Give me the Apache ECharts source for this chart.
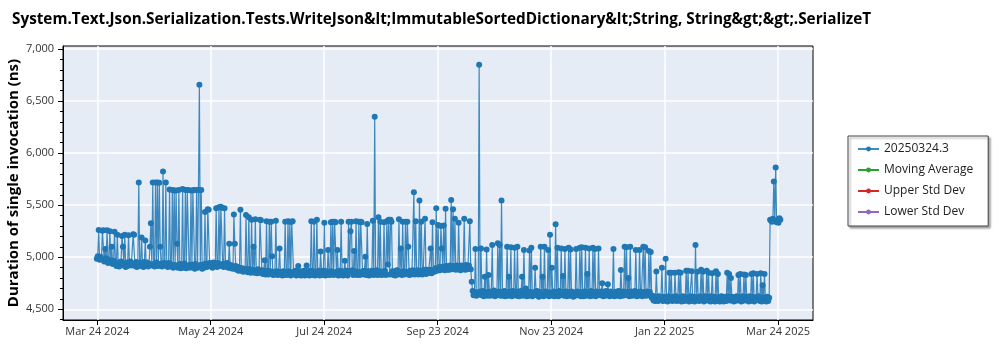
<!DOCTYPE html>
<html>
<head>
<meta charset="utf-8">
<script src="https://cdn.jsdelivr.net/npm/echarts@6/dist/echarts.min.js"></script>
<style>
  html, body { margin: 0; padding: 0; background: #fff; }
  #chart { width: 1000px; height: 350px; }
</style>
</head>
<body>
<div id="chart"></div>
<script>
// Benchmark run history: durations (ns), two runs per day.
const chartTitle = 'System.Text.Json.Serialization.Tests.WriteJson&lt;ImmutableSortedDictionary&lt;String, String&gt;&gt;.SerializeT';
const yAxisTitle = 'Duration of single invocation (ns)';
const seriesNames = ['20250324.3', 'Moving Average', 'Upper Std Dev', 'Lower Std Dev'];
const seriesColors = ['#1f77b4', '#2ca02c', '#d62728', '#9467bd'];

// First run; the following runs come every 12 hours.
const firstRun = '2024-03-24T12:00:00Z';
const runStepHours = 12;

const durations = [
  // Mar 24 - Apr 2 2024
  4985, 5010, 5262, 4975, 5005, 4980, 5255, 5258, 4960, 5080, 4990, 5260, 4945, 4975, 5250, 4950, 5100, 4935, 4965, 5245,
  4955, 4915, 5215, 4945, 4910, 4940, 4960, 5205, 5100, 4920, 5215, 4905, 4950, 4915, 5210, 4945, 4960, 4920, 4930, 5220,
  5215, 4915, 4955, 4905, 4940, 5717, 4950, 4915, 5190, 4935, 4905, 4955, 5160, 4915, 4950, 4910, 4940, 5100, 5327, 4920,
  5717, 4935, 4910, 5717, 4950, 5717, 4915, 5715, 5100, 4940, 4910, 5823, 4945, 4920, 5717, 4935, 4905, 4945, 5650, 4910,
  // May 2024
  4930, 5645, 4900, 5640, 4925, 5640, 5130, 4900, 5645, 4935, 4895, 4920, 5655, 4900, 4940, 5645, 4895, 5645, 5645, 4925,
  4900, 5640, 4930, 5640, 5645, 4890, 4935, 5645, 4900, 5645, 6657, 4925, 5645, 4890, 4930, 4900, 5435, 4940, 4905, 5460,
  5455, 4945, 4915, 4935, 4900, 4950, 4915, 4940, 5470, 4905, 4945, 5480, 4915, 5485, 5475, 4935, 4905, 5470, 4940, 4910,
  4945, 4900, 5130, 4925, 4895, 4920, 4890, 5410, 5130, 4915, 4880, 4905, 4870, 4900, 5455, 4870, 4895, 4860, 4885, 4865,
  // Jun 2024
  5405, 4890, 4855, 5385, 4885, 4850, 5360, 4880, 5100, 4850, 5365, 4875, 4845, 4885, 4850, 5360, 5355, 4875, 4840, 4870,
  4970, 4835, 5345, 4870, 4835, 5340, 4865, 5340, 5010, 4830, 4860, 4835, 5350, 4865, 4830, 4860, 5085, 4835, 4855, 4825,
  4865, 4830, 5340, 4860, 4830, 5345, 4865, 5340, 4825, 5340, 5345, 4860, 4835, 4870, 4825, 4860, 4915, 4830, 4865, 4825,
  // Jul 2024
  4855, 4830, 4870, 4825, 4860, 4920, 4830, 4865, 4825, 4870, 5345, 4830, 4865, 5340, 4825, 4860, 5360, 4835, 4870, 4825,
  5055, 4860, 4830, 4870, 5330, 4825, 4865, 4830, 5070, 4860, 4830, 5335, 4865, 5340, 4830, 5340, 5335, 4860, 5070, 4825,
  4870, 4830, 5340, 4865, 4825, 4860, 4965, 4830, 4870, 4825, 5340, 4865, 5250, 5340, 4875, 4830, 5060, 4865, 5345, 4830,
  // Aug 2024
  4860, 5340, 4830, 5340, 5335, 4865, 4835, 4870, 5005, 4830, 5320, 4865, 4825, 4860, 4835, 4870, 5350, 4830, 6350, 4865,
  4875, 4830, 5385, 4865, 5340, 4830, 4860, 4835, 5335, 4870, 4830, 5345, 4930, 5360, 4835, 5360, 5340, 4865, 4830, 4860,
  4825, 4870, 4875, 4835, 5365, 4860, 5085, 4830, 5340, 4865, 4835, 5340, 4860, 5340, 5100, 4830, 4870, 4835, 4860, 4875,
  // Sep 2024
  5625, 4835, 5345, 4870, 4875, 4835, 5545, 4870, 5340, 4835, 4865, 4880, 5370, 4840, 4880, 4845, 4870, 4880, 5085, 4845,
  5335, 4875, 4860, 4895, 5470, 4870, 5310, 4905, 4875, 5300, 5085, 4910, 5305, 4875, 5465, 4915, 4880, 4910, 4880, 4920,
  5550, 4885, 5460, 4915, 5370, 4880, 4920, 4885, 5330, 4915, 4875, 4920, 4885, 4910, 5370, 4880, 4925, 4885, 4910, 4920,
  // Oct 2024
  5345, 4885, 4765, 4675, 4635, 4665, 5080, 4630, 4660, 4640, 6850, 4670, 5085, 4635, 4675, 4625, 4813, 4665, 5075, 4630,
  4830, 4670, 4630, 4665, 5118, 4635, 4680, 4625, 4660, 4635, 5135, 4670, 5118, 4630, 5545, 4665, 4630, 4675, 4625, 4665,
  5100, 4630, 4813, 4670, 5095, 4625, 4675, 4635, 5090, 4665, 4630, 5100, 4670, 4625, 4645, 4675, 4813, 4630, 5070, 4670,
  // Nov 2024
  4700, 4625, 4670, 4630, 5065, 4665, 5090, 4625, 4660, 4635, 4900, 4670, 4675, 4630, 4620, 4665, 5100, 4635, 4813, 4625,
  5100, 4670, 4635, 4665, 5070, 4625, 5215, 4660, 4900, 4630, 4670, 4625, 5317, 4665, 5090, 4625, 4675, 4635, 5085, 4665,
  4820, 4630, 5080, 4670, 4625, 4665, 5090, 4630, 5075, 4670, 4635, 4620, 4660, 4630, 5080, 4670, 4635, 4665, 5090, 4625,
  // Dec 2024
  5095, 4665, 4625, 4670, 5090, 4630, 4840, 4665, 5085, 4625, 4675, 4630, 5090, 4665, 5080, 4625, 4670, 4635, 5085, 4660,
  4635, 4670, 4750, 4625, 4665, 4630, 4675, 4635, 4740, 4665, 4625, 4670, 4635, 4660, 5080, 4625, 4665, 4630, 4670, 4635,
  4675, 4625, 4878, 4665, 4630, 4670, 5100, 4635, 5095, 4665, 4800, 4625, 5100, 4670, 4630, 4665, 4635, 4675, 5070, 4625,
  // Jan 2025
  4665, 4630, 5070, 4670, 4635, 4625, 5100, 4665, 5095, 4630, 4670, 4635, 5060, 4665, 5050, 4610, 4630, 4585, 4615, 4580,
  4862, 4620, 4580, 4625, 4590, 4615, 4900, 4580, 4620, 4585, 4985, 4615, 4575, 4625, 4850, 4590, 4850, 4580, 4620, 4585,
  4850, 4625, 4580, 4615, 4855, 4585, 4850, 4575, 4625, 4590, 4580, 4620, 4870, 4585, 4870, 4575, 4615, 4625, 4865, 4580,
  // Feb 2025
  4620, 4575, 5118, 4615, 4860, 4585, 4580, 4625, 4880, 4590, 4860, 4575, 4625, 4585, 4870, 4620, 4850, 4580, 4575, 4625,
  4845, 4585, 4620, 4575, 4865, 4615, 4840, 4580, 4575, 4620, 4625, 4590, 4575, 4615, 4620, 4580, 4850, 4625, 4840, 4585,
  4800, 4620, 4590, 4575, 4580, 4615, 4625, 4585, 4830, 4620, 4840, 4575, 4580, 4625, 4835, 4585, 4830, 4620, 4615, 4575,
  // Mar 2025
  4625, 4580, 4840, 4620, 4845, 4575, 4585, 4615, 4840, 4625, 4620, 4580, 4845, 4575, 4730, 4615, 4840, 4585, 4575, 4620,
  4580, 4610, 5360, 5350, 5340, 5370, 5727, 5350, 5862, 5335, 5345, 5330, 5375, 5360
];

const xTickDates = [
  '2024-03-24T18:00:00Z', '2024-05-24T14:00:00Z', '2024-07-24T10:00:00Z',
  '2024-09-23T06:00:00Z', '2024-11-23T02:00:00Z', '2025-01-22T22:00:00Z',
  '2025-03-24T18:00:00Z'
];
const xTickLabels = ['Mar 24 2024', 'May 24 2024', 'Jul 24 2024', 'Sep 23 2024', 'Nov 23 2024', 'Jan 22 2025', 'Mar 24 2025'];
const yTickValues = [4500, 5000, 5500, 6000, 6500, 7000];
const yMinorTickValues = [
  4400, 4500, 4600, 4700, 4800, 4900, 5000, 5100, 5200, 5300, 5400,
  5500, 5600, 5700, 5800, 5900, 6000, 6100, 6200, 6300, 6400, 6500,
  6600, 6700, 6800, 6900, 7000
];

const HOUR_MS = 3600000;
const fontFamily = '"Open Sans", "Noto Sans", sans-serif';
const xTickValues = xTickDates.map(s => Date.parse(s));
const runStart = Date.parse(firstRun);
const runPoints = durations.map((v, i) => [runStart + i * runStepHours * HOUR_MS, v]);

function xLabel(v) {
  let best = 0;
  for (let i = 1; i < xTickValues.length; i++) {
    if (Math.abs(xTickValues[i] - v) < Math.abs(xTickValues[best] - v)) best = i;
  }
  return xTickLabels[best];
}

const chart = echarts.init(document.getElementById('chart'), null, { renderer: 'canvas' });

const series = seriesNames.map((name, i) => ({
  name: name,
  type: 'line',
  data: i === 0 ? runPoints : [],
  symbol: 'circle',
  symbolSize: 6,
  showSymbol: true,
  showAllSymbol: true,
  animation: false,
  color: seriesColors[i],
  itemStyle: { color: seriesColors[i] },
  lineStyle: { color: seriesColors[i], width: 1.2, opacity: i === 0 ? 0.85 : 1 },
  emphasis: { disabled: true }
}));

chart.setOption({
  animation: false,
  backgroundColor: '#ffffff',
  title: {
    text: chartTitle,
    left: 7,
    top: 7,
    textStyle: { fontSize: 15.3, fontWeight: 'bold', color: '#000', fontFamily: fontFamily }
  },
  legend: {
    orient: 'vertical',
    left: 848,
    top: 136,
    data: seriesNames,
    selectedMode: false,
    itemWidth: 21,
    itemHeight: 6,
    itemGap: 9,
    padding: [7, 15, 8, 9],
    backgroundColor: '#ffffff',
    borderColor: '#444',
    borderWidth: 1,
    borderRadius: 0,
    shadowColor: 'rgba(0,0,0,0.35)',
    shadowBlur: 2,
    shadowOffsetX: 2,
    shadowOffsetY: 2,
    textStyle: { fontSize: 12, color: '#222', fontFamily: fontFamily }
  },
  grid: {
    left: 63,
    right: 187,
    top: 46,
    bottom: 30,
    containLabel: false,
    outerBoundsMode: 'none',
    show: true,
    backgroundColor: '#e5ecf6',
    borderColor: '#000',
    borderWidth: 1
  },
  xAxis: {
    type: 'value',
    min: Date.parse('2024-03-06T09:00:00Z'),
    max: Date.parse('2025-04-12T12:00:00Z'),
    axisLine: { show: true, onZero: false, lineStyle: { color: '#000', width: 1 } },
    axisTick: { show: true, customValues: xTickValues, length: 5, lineStyle: { color: '#000' } },
    axisLabel: { customValues: xTickValues, formatter: xLabel, color: '#333', fontSize: 11, margin: 6, fontFamily: fontFamily },
    splitLine: { show: true, lineStyle: { color: '#fff', width: 1.5 } }
  },
  yAxis: [{
    type: 'value',
    min: 4397,
    max: 7029,
    position: 'left',
    name: yAxisTitle,
    nameLocation: 'middle',
    nameGap: 42,
    nameMoveOverlap: false,
    nameTextStyle: { fontSize: 15, fontWeight: 'bold', color: '#000', fontFamily: fontFamily },
    axisLine: { show: true, onZero: false, lineStyle: { color: '#000', width: 1 } },
    axisTick: { show: true, customValues: yTickValues, length: 5, lineStyle: { color: '#000' } },
    axisLabel: {
      customValues: yTickValues,
      formatter: v => v.toLocaleString('en-US'),
      color: '#333', fontSize: 11, margin: 9, fontFamily: fontFamily
    },
    splitLine: { show: true, lineStyle: { color: '#fff', width: 1.5 } }
  }, {
    type: 'value',
    min: 4397,
    max: 7029,
    position: 'left',
    axisLine: { show: false },
    axisLabel: { show: false },
    splitLine: { show: false },
    axisTick: { show: true, customValues: yMinorTickValues, length: 3, lineStyle: { color: '#000' } }
  }],
  series: series
});
</script>
</body>
</html>
